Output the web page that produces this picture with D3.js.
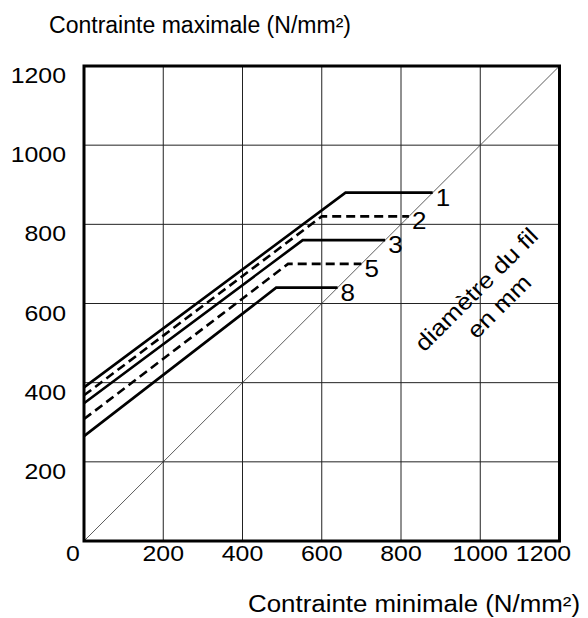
<!DOCTYPE html>
<html>
<head>
<meta charset="utf-8">
<script src="https://cdn.jsdelivr.net/npm/d3@7"></script>
<style>
  html, body { margin: 0; padding: 0; background: #fff; }
  svg { display: block; font-family: "Liberation Sans", Arial, sans-serif; }
</style>
</head>
<body>
<svg id="chart" width="588" height="618"></svg>
<script>
// Fatigue diagram: maximum stress vs minimum stress for several wire diameters (mm)
const diameters = ["1", "2", "3", "5", "8"];
const maxAtZero = [388, 368, 348, 308, 265];   // max stress when min stress = 0
const kneeMin   = [660, 600, 552, 515, 485];   // min stress where the plateau begins
const plateau   = [880, 820, 760, 700, 640];   // plateau max stress
const endMin    = [880, 820, 760, 700, 640];   // plateau ends on the diagonal
const dashed    = [false, true, false, true, false];

const xTicks = [0, 200, 400, 600, 800, 1000, 1200];
const yTicks = [200, 400, 600, 800, 1000, 1200];

const svg = d3.select("#chart");
const plot = { left: 84, right: 559.5, top: 66, bottom: 541 };
const wide = 1.13;   // the lettering is set slightly expanded

const x = d3.scaleLinear().domain([0, 1200]).range([plot.left, plot.right]);
const y = d3.scaleLinear().domain([0, 1200]).range([plot.bottom, plot.top]);

// grid
const grid = svg.append("g").attr("stroke", "#222").attr("stroke-width", 1);
grid.selectAll("line.v").data(xTicks.slice(1, -1)).join("line").attr("class", "v")
  .attr("x1", d => x(d)).attr("x2", d => x(d))
  .attr("y1", plot.top).attr("y2", plot.bottom);
grid.selectAll("line.h").data(yTicks.slice(0, -1)).join("line").attr("class", "h")
  .attr("x1", plot.left).attr("x2", plot.right)
  .attr("y1", d => y(d)).attr("y2", d => y(d));

// diagonal max = min
svg.append("line")
  .attr("x1", x(0)).attr("y1", y(0)).attr("x2", x(1200)).attr("y2", y(1200))
  .attr("stroke", "#333").attr("stroke-width", 0.8);

// frame
svg.append("rect")
  .attr("x", plot.left).attr("y", plot.top)
  .attr("width", plot.right - plot.left).attr("height", plot.bottom - plot.top)
  .attr("fill", "none").attr("stroke", "#000").attr("stroke-width", 3);

// series
const line = d3.line().x(d => x(d[0])).y(d => y(d[1]));
const series = diameters.map((d, i) => ({
  label: d,
  dashed: dashed[i],
  pts: [[0, maxAtZero[i]], [kneeMin[i], plateau[i]], [endMin[i], plateau[i]]]
}));

svg.append("g").selectAll("path").data(series).join("path")
  .attr("d", s => line(s.pts))
  .attr("fill", "none").attr("stroke", "#000").attr("stroke-width", 2.6)
  .attr("stroke-dasharray", s => s.dashed ? "9,5" : null);

svg.append("g").selectAll("text").data(series).join("text")
  .attr("transform", s => `translate(${x(s.pts[2][0]) + 3},${y(s.pts[2][1]) + 13}) scale(${wide},1)`)
  .attr("font-size", 23)
  .text(s => s.label);

// tick labels
svg.append("g").selectAll("text").data(yTicks).join("text")
  .attr("transform", d => `translate(66,${y(d) + 17}) scale(${wide},1)`)
  .attr("text-anchor", "end").attr("font-size", 22)
  .text(d => d);

svg.append("g").selectAll("text").data(xTicks).join("text")
  .attr("transform", d => {
    const cx = d === 0 ? x(d) - 11 : d === 1200 ? x(d) - 16 : x(d);
    return `translate(${cx},561) scale(${wide},1)`;
  })
  .attr("text-anchor", "middle").attr("font-size", 22)
  .text(d => d);

// axis titles
svg.append("text").attr("x", 49).attr("y", 33).attr("font-size", 23)
  .attr("textLength", 302).attr("lengthAdjust", "spacingAndGlyphs")
  .text("Contrainte maximale (N/mm²)");
svg.append("text").attr("x", 248).attr("y", 612).attr("font-size", 23)
  .attr("textLength", 332).attr("lengthAdjust", "spacingAndGlyphs")
  .text("Contrainte minimale (N/mm²)");

// diameter note along the diagonal
const note = svg.append("g").attr("transform", "translate(482,295) rotate(-45)");
note.append("text").attr("text-anchor", "middle").attr("font-size", 23)
  .attr("transform", `scale(${wide},1)`).text("diamètre du fil");
note.append("text").attr("text-anchor", "middle").attr("font-size", 23)
  .attr("transform", `translate(4,28) scale(${wide},1)`).text("en  mm");
</script>
</body>
</html>
